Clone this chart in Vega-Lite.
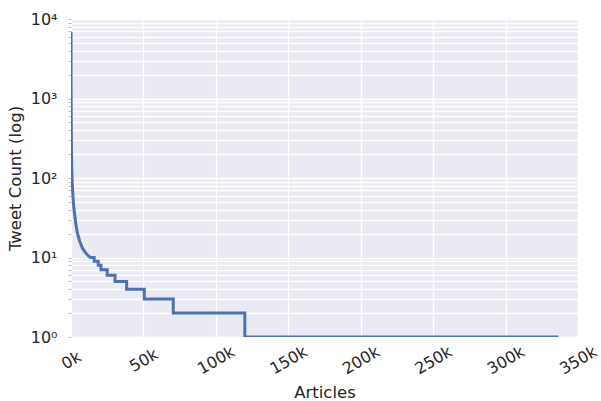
{
  "$schema": "https://vega.github.io/schema/vega-lite/v6.json",
  "width": 507,
  "height": 318,
  "autosize": {"type": "none"},
  "padding": {"left": 71, "top": 19, "right": 23, "bottom": 64},
  "background": "white",
  "config": {
    "view": {"fill": "#EAEAF2", "stroke": null},
    "font": "DejaVu Sans",
    "axis": {
      "labelFont": "DejaVu Sans",
      "titleFont": "DejaVu Sans",
      "labelColor": "#262626",
      "titleColor": "#262626",
      "labelFontSize": 16,
      "titleFontSize": 16.5,
      "titleFontWeight": "normal",
      "gridColor": "white",
      "gridWidth": 1.3,
      "gridOpacity": 1,
      "domain": false
    }
  },
  "data": {
    "values": [
      {"i": 0, "rank": 0, "count": 6900},
      {"i": 1, "rank": 50, "count": 1500},
      {"i": 2, "rank": 150, "count": 600},
      {"i": 3, "rank": 300, "count": 250},
      {"i": 4, "rank": 500, "count": 140},
      {"i": 5, "rank": 800, "count": 90},
      {"i": 6, "rank": 1200, "count": 65},
      {"i": 7, "rank": 1800, "count": 45},
      {"i": 8, "rank": 2500, "count": 35},
      {"i": 9, "rank": 3500, "count": 25},
      {"i": 10, "rank": 4500, "count": 20},
      {"i": 11, "rank": 6000, "count": 16},
      {"i": 12, "rank": 8000, "count": 13},
      {"i": 13, "rank": 10000, "count": 11.5},
      {"i": 14, "rank": 12000, "count": 10.5},
      {"i": 15, "rank": 13500, "count": 10},
      {"i": 16, "rank": 16000, "count": 10},
      {"i": 17, "rank": 16000, "count": 9},
      {"i": 18, "rank": 18800, "count": 9},
      {"i": 19, "rank": 18800, "count": 8},
      {"i": 20, "rank": 20700, "count": 8},
      {"i": 21, "rank": 20700, "count": 7},
      {"i": 22, "rank": 25000, "count": 7},
      {"i": 23, "rank": 25000, "count": 6},
      {"i": 24, "rank": 30400, "count": 6},
      {"i": 25, "rank": 30400, "count": 5},
      {"i": 26, "rank": 38400, "count": 5},
      {"i": 27, "rank": 38400, "count": 4},
      {"i": 28, "rank": 50600, "count": 4},
      {"i": 29, "rank": 50600, "count": 3},
      {"i": 30, "rank": 70600, "count": 3},
      {"i": 31, "rank": 70600, "count": 2},
      {"i": 32, "rank": 120000, "count": 2},
      {"i": 33, "rank": 120000, "count": 1},
      {"i": 34, "rank": 336500, "count": 1}
    ]
  },
  "mark": {"type": "line", "color": "#4C72B0", "strokeWidth": 3, "clip": true},
  "encoding": {
    "x": {
      "field": "rank",
      "type": "quantitative",
      "scale": {"domain": [0, 350000], "nice": false, "zero": false},
      "axis": {
        "title": "Articles",
        "values": [0, 50000, 100000, 150000, 200000, 250000, 300000, 350000],
        "labelExpr": "(datum.value / 1000) + 'k'",
        "labelAngle": -30,
        "labelAlign": "center",
        "labelBaseline": "middle",
        "labelPadding": 23,
        "labelOverlap": false,
        "labelFlush": false,
        "ticks": false,
        "titlePadding": 8
      }
    },
    "y": {
      "field": "count",
      "type": "quantitative",
      "scale": {"type": "log", "domain": [1, 10000], "nice": false},
      "axis": {
        "title": "Tweet Count (log)",
        "values": [1,2,3,4,5,6,7,8,9,10,20,30,40,50,60,70,80,90,100,200,300,400,500,600,700,800,900,1000,2000,3000,4000,5000,6000,7000,8000,9000,10000],
        "labelExpr": "datum.value == 1 ? '10⁰' : datum.value == 10 ? '10¹' : datum.value == 100 ? '10²' : datum.value == 1000 ? '10³' : datum.value == 10000 ? '10⁴' : ''",
        "ticks": true,
        "tickSize": 3,
        "tickColor": "#BBBBBB",
        "labelPadding": 11,
        "labelOverlap": false,
        "labelFlush": false,
        "titlePadding": 7
      }
    },
    "order": {"field": "i", "type": "quantitative"}
  }
}
